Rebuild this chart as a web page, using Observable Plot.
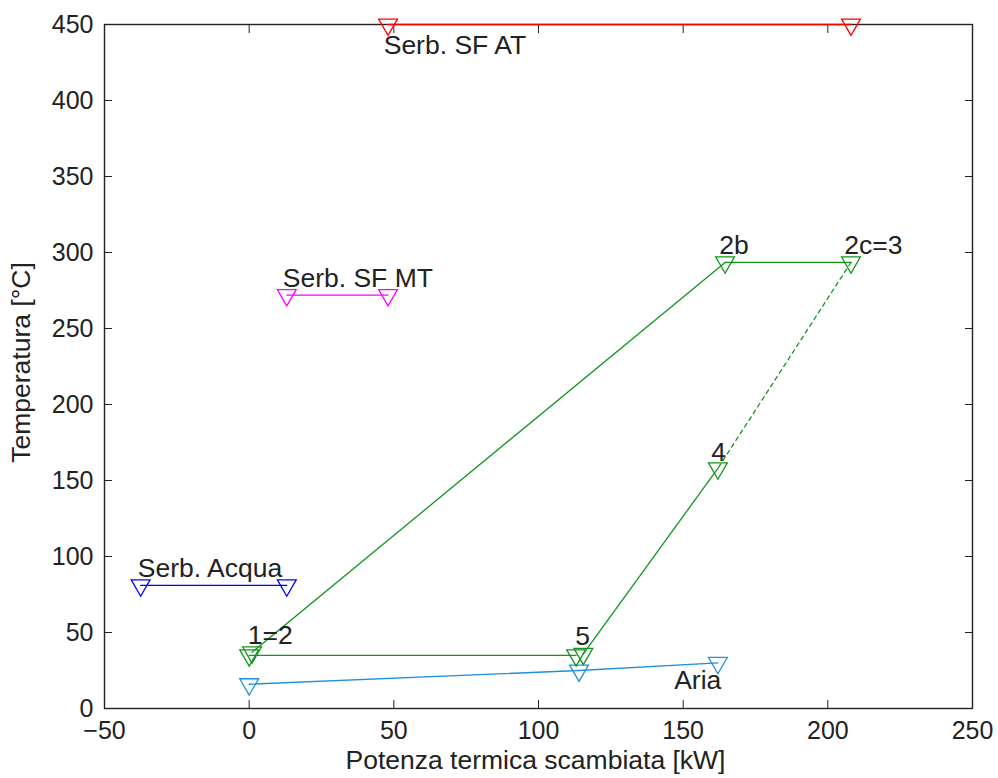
<!DOCTYPE html>
<html><head><meta charset="utf-8">
<script src="https://cdn.jsdelivr.net/npm/d3@7"></script>
<script src="https://cdn.jsdelivr.net/npm/@observablehq/plot@0.6"></script>
<style>
body{margin:0;background:#fff}
#chart{width:998px;height:778px}
</style>
</head><body><div id="chart"></div>
<script>
// axis ticks
const xTicks = [-50, 0, 50, 100, 150, 200, 250];
const yTicks = [0, 50, 100, 150, 200, 250, 300, 350, 400, 450];

// reservoirs & air
const atX = [48, 208],   atY = [450, 450];
const mtX = [13, 48],    mtY = [272, 272];
const acquaX = [-37.5, 13], acquaY = [81, 81];
const ariaX = [0, 114, 162], ariaY = [16, 25, 30];

// green cycle points
const cycleName = ["1", "2", "2b", "2c", "4", "5b", "5"];
const cycleX = [0, 1, 164.5, 208, 162, 115.5, 113];
const cycleY = [35, 37, 293.5, 293.5, 158, 36, 35];
const solidSegs = [[1, 2], [2, 3], [4, 5], [6, 0]];
const dashedSegs = [[3, 4]];

// annotations
const labelText = ["Serb. SF AT", "Serb. SF MT", "Serb. Acqua", "1=2", "5", "4", "2b", "2c=3", "Aria"];
const labelX = [46.5, 11.6, -38.5, -0.5, 112.7, 159.7, 162.5, 205.7, 146.9];
const labelY = [436, 283, 92, 48, 47.5, 168.5, 304.5, 304.5, 18.5];

const pts = (xs, ys) => xs.map((x, i) => ({x, y: ys[i]}));
const segRows = segs => segs.flatMap(([a, b], k) => [a, b].map(i => ({x: cycleX[i], y: cycleY[i], seg: k})));

const font = "'Liberation Sans', Arial, sans-serif";
const ink = "#222";
const green = "#12961a";
const cyan = "#2190d8";
const tri = {symbol: "triangle", rotate: 180, r: 7, fill: "none", strokeWidth: 1.3};

const chart = Plot.plot({
  width: 998, height: 778,
  marginLeft: 104, marginRight: 26, marginTop: 24, marginBottom: 70,
  style: {fontFamily: font, fontSize: "25px", color: ink, background: "#fff"},
  x: {domain: [-50, 250], ticks: xTicks},
  y: {domain: [0, 450], ticks: yTicks},
  marks: [
    Plot.frame({stroke: ink, strokeWidth: 1.4}),
    Plot.axisX(xTicks, {anchor: "bottom", tickSize: -8, tickPadding: 21, label: null, fontSize: 25, stroke: ink, color: ink}),
    Plot.axisX(xTicks, {anchor: "top", tickSize: -8, tickFormat: () => "", label: null, stroke: ink}),
    Plot.axisY(yTicks, {anchor: "left", tickSize: -8, tickPadding: 19, label: null, fontSize: 25, stroke: ink}),
    Plot.axisY(yTicks, {anchor: "right", tickSize: -8, tickFormat: () => "", label: null, stroke: ink}),
    Plot.text(["Potenza termica scambiata [kW]"], {frameAnchor: "bottom", dy: 60, dx: -3, lineAnchor: "bottom", textAnchor: "middle", fontSize: 26.5, fill: ink}),
    Plot.text(["Temperatura [°C]"], {frameAnchor: "left", rotate: -90, dx: -75, dy: -4, lineAnchor: "bottom", textAnchor: "middle", fontSize: 26.5, fill: ink}),

    // reservoirs
    Plot.line(pts(atX, atY), {x: "x", y: "y", stroke: "#ff0000", strokeWidth: 1.3}),
    Plot.dot(pts(atX, atY), {x: "x", y: "y", stroke: "#ff0000", ...tri}),
    Plot.line(pts(mtX, mtY), {x: "x", y: "y", stroke: "#ff00ff", strokeWidth: 1.3}),
    Plot.dot(pts(mtX, mtY), {x: "x", y: "y", stroke: "#ff00ff", ...tri}),
    Plot.line(pts(acquaX, acquaY), {x: "x", y: "y", stroke: "#0000ff", strokeWidth: 1.3}),
    Plot.dot(pts(acquaX, acquaY), {x: "x", y: "y", stroke: "#0000ff", ...tri}),
    // air
    Plot.line(pts(ariaX, ariaY), {x: "x", y: "y", stroke: cyan, strokeWidth: 1.4}),
    Plot.dot(pts(ariaX, ariaY), {x: "x", y: "y", stroke: cyan, ...tri}),
    // cycle
    Plot.line(segRows(solidSegs), {x: "x", y: "y", z: "seg", stroke: green, strokeWidth: 1.3}),
    Plot.line(segRows(dashedSegs), {x: "x", y: "y", z: "seg", stroke: green, strokeWidth: 1.3, strokeDasharray: "4,4"}),
    Plot.dot(pts(cycleX, cycleY), {x: "x", y: "y", stroke: green, ...tri}),

    // labels
    Plot.text(labelText, {x: (d, i) => labelX[i], y: (d, i) => labelY[i], text: d => d, textAnchor: "start", lineAnchor: "middle", fontSize: 26.5, fill: ink})
  ]
});
document.getElementById("chart").appendChild(chart);
</script>
</body></html>
